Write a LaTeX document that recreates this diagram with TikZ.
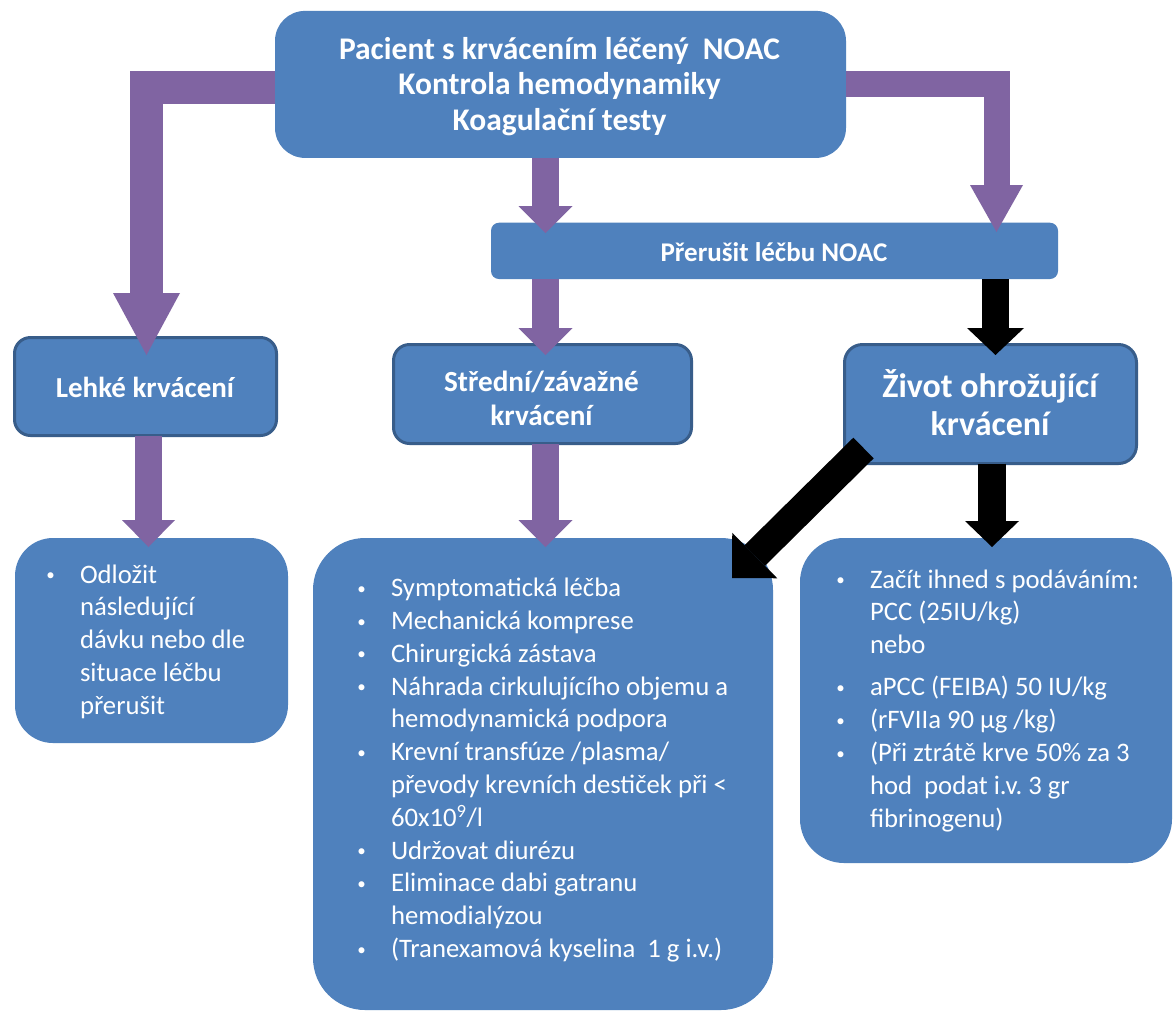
\documentclass[tikz,border=0pt]{standalone}
\usepackage{fontspec}
\setmainfont{Carlito}
\usetikzlibrary{arrows.meta,calc}
\definecolor{boxblue}{HTML}{4F81BD}
\definecolor{borderblue}{HTML}{385D8A}
\definecolor{arrowpurple}{HTML}{8064A2}
\newcommand\bul{\llap{\makebox[0pt]{\raisebox{2.5pt}{\fontsize{17}{17}\selectfont •}}\hspace{29.5pt}}}
\frenchspacing
\begin{document}
\begin{tikzpicture}[x=1pt,y=-1pt,
  box/.style={fill=boxblue, draw=none, inner sep=0pt, outer sep=0pt},
  obox/.style={fill=boxblue, draw=borderblue, line width=3pt, inner sep=0pt, outer sep=0pt, rounded corners=16pt},
  wtxt/.style={text=white, inner sep=0pt, outer sep=0pt},
  listtxt/.style={wtxt, align=left, anchor=base west, font=\fontsize{26.7}{32.8}\selectfont},
  purp/.style={draw=arrowpurple, line width=#1},
  blk/.style={draw=black, line width=#1},
]
\fill[white] (0,0) rectangle (1175,1013);
\useasboundingbox (0,0) rectangle (1175,1013);

% boxes
\node[box, rounded corners=30pt, minimum width=571pt, minimum height=147pt] (top) at (560.5,84.4) {};
\node[box, rounded corners=8pt, minimum width=567pt, minimum height=56.3pt] (preru) at (774.5,250.85) {};
\node[obox, minimum width=262pt, minimum height=98pt] (lehke) at (145.5,386.5) {};
\node[obox, minimum width=298pt, minimum height=99pt] (stredni) at (542.5,394) {};
\node[obox, rounded corners=18pt, minimum width=292pt, minimum height=119pt] (zivot) at (990.5,404) {};
\node[box, rounded corners=38pt, minimum width=273pt, minimum height=205pt] (odlozit) at (151.5,640.5) {};
\node[box, rounded corners=52pt, minimum width=460pt, minimum height=472pt] (midbox) at (543,774) {};
\node[box, rounded corners=44pt, minimum width=372pt, minimum height=325pt] (rbox) at (986,700.5) {};

% connector coordinates
\coordinate (lt) at ($(lehke.north)+(1,17.5)$);
\coordinate (a1s) at ($(top.south)+(-15,0)$);
\coordinate (a1e) at ($(a1s |- preru.north)+(0,10.5)$);
\coordinate (a2s) at ($(a1s |- preru.south)$);
\coordinate (a2e) at ($(a1s |- stredni.north)+(0,10.5)$);
\coordinate (rt) at ($(preru.north east)+(-61.5,9.3)$);
\coordinate (b1s) at ($(preru.south east)+(-62.5,0)$);
\coordinate (b1e) at ($(b1s |- zivot.north)+(0,10.5)$);
\coordinate (b2s) at ($(zivot.south)+(1.5,0)$);
\coordinate (b2e) at ($(b2s |- rbox.north)+(0,9)$);
\coordinate (l2s) at ($(lehke.south)+(3,0)$);
\coordinate (l2e) at ($(l2s |- odlozit.north)+(0,9)$);
\coordinate (s2s) at ($(stredni.south)+(3,0)$);
\coordinate (s2e) at ($(s2s |- midbox.north)+(0,9)$);
\coordinate (dgs) at ($(zivot.south west)+(19,-15.5)$);
\coordinate (dge) at ($(midbox.north east)+(-41,40)$);

% arrows
\draw[purp=33pt, -{Triangle[width=67pt,length=62pt,line width=0pt]}] ($(top.west)+(0,3)$) -| (lt);
\draw[purp=27.5pt, -{Triangle[width=54pt,length=27pt,line width=0pt]}] (a1s) -- (a1e);
\draw[purp=27.5pt, -{Triangle[width=54pt,length=27pt,line width=0pt]}] (a2s) -- (a2e);
\draw[purp=26pt, -{Triangle[width=53pt,length=47pt,line width=0pt]}] (top.east) -| (rt);
\draw[purp=27pt, -{Triangle[width=53pt,length=27pt,line width=0pt]}] (l2s) -- (l2e);
\draw[purp=27.5pt, -{Triangle[width=54pt,length=27pt,line width=0pt]}] (s2s) -- (s2e);
\draw[blk=27pt, -{Triangle[width=57pt,length=27pt,line width=0pt]}] (b1s) -- (b1e);
\draw[blk=28pt, -{Triangle[width=54pt,length=26pt,line width=0pt]}] (b2s) -- (b2e);
\draw[blk=29pt, -{Triangle[width=64pt,length=32pt,line width=0pt]}] (dgs) -- (dge);

% texts (base anchor = baseline of the last line)
\node[wtxt, align=center, anchor=base, font=\bfseries\fontsize{31.5}{35.5}\selectfont] (toptxt) at (559.5,130)
  {Pacient s krvácením léčený\ \ NOAC\\Kontrola hemodynamiky\\Koagulační testy};
\node[wtxt, anchor=base, font=\bfseries\fontsize{27}{32}\selectfont] (prerutxt) at (774,261) {Přerušit léčbu NOAC};
\node[wtxt, anchor=base, font=\bfseries\fontsize{29}{34}\selectfont] (lehketxt) at (145,397) {Lehké krvácení};
\node[wtxt, align=center, anchor=base, font=\bfseries\fontsize{29.2}{34}\selectfont] (strednitxt) at (541.5,425)
  {Střední/závažné\\krvácení};
\node[wtxt, align=center, anchor=base, font=\bfseries\fontsize{34}{38}\selectfont] (zivottxt) at (990,435)
  {Život ohrožující\\krvácení};

\node[listtxt] (odlozittxt) at (80,714.2)
  {\bul Odložit\\následující\\dávku nebo dle\\situace léčbu\\přerušit};
\node[listtxt] (midtxt) at (391,957.5)
  {\bul Symptomatická léčba\\
   \bul Mechanická komprese\\
   \bul Chirurgická zástava\\
   \bul Náhrada cirkulujícího objemu a\\
   hemodynamická podpora\\
   \bul Krevní transfúze /plasma/\\
   převody krevních destiček při <\\
   60x10\textsuperscript{9}/l\\
   \bul Udržovat diurézu\\
   \bul Eliminace dabi gatranu\\
   hemodialýzou\\
   \bul (Tranexamová kyselina\ \ 1 g i.v.)};
\node[listtxt] (rtxt) at (870,827.1)
  {\bul Začít ihned s podáváním:\\
   PCC (25IU/kg)\\
   nebo\\[9.5pt]
   \bul aPCC (FEIBA) 50 IU/kg\\
   \bul (rFVIIa 90 µg /kg)\\
   \bul (Při ztrátě krve 50\% za 3\\
   hod\ \ podat i.v. 3 gr\\
   fibrinogenu)};
\end{tikzpicture}
\end{document}
